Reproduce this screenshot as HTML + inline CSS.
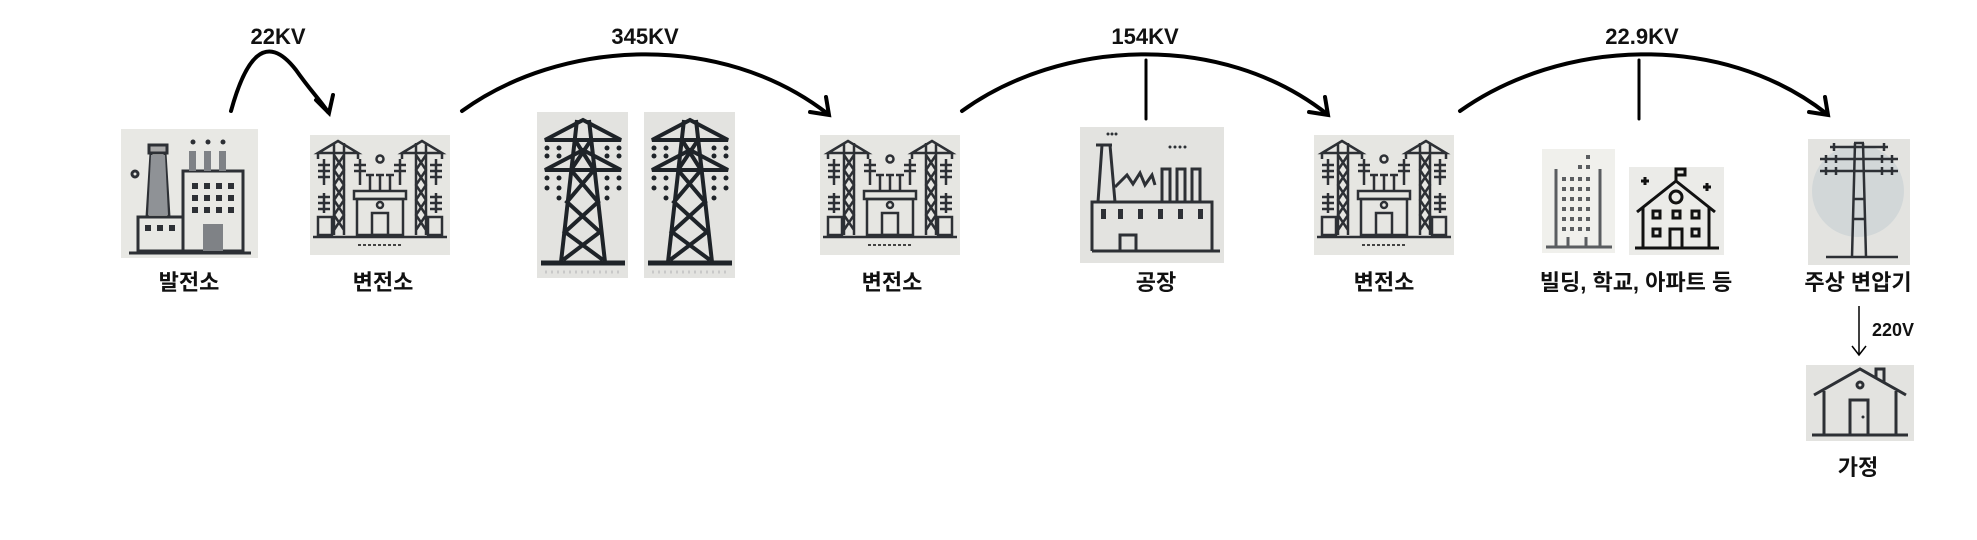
<!DOCTYPE html>
<html><head><meta charset="utf-8"><style>
html,body{margin:0;padding:0;background:#fff;width:1977px;height:540px;overflow:hidden}
svg text{font-family:"Liberation Sans","Noto Sans CJK KR",sans-serif;font-weight:bold;fill:#111}
</style></head><body>
<svg width="1977" height="540" viewBox="0 0 1977 540" xmlns="http://www.w3.org/2000/svg">
<defs>
<g id="sub">
 <rect x="0" y="0" width="140" height="120" fill="#e6e6e2"/>
 <g stroke="#2d3035" stroke-width="2.5" fill="none">
  <path d="M8 18 L28 6 L48 18 Z M8 18 V24 M48 18 V24 M92 18 L112 6 L132 18 Z M92 18 V24 M132 18 V24"/>
  <path d="M24 8 V100 M34 8 V100 M24 20 L34 35 L24 50 L34 65 L24 80 L34 95 M34 20 L24 35 L34 50 L24 65 L34 80 L24 95"/>
  <path d="M106 8 V100 M116 8 V100 M106 20 L116 35 L106 50 L116 65 L106 80 L116 95 M116 20 L106 35 L116 50 L106 65 L116 80 L106 95"/>
  <path d="M14 24 V50 M8 30 H20 M8 36 H20 M8 42 H20 M14 58 V78 M8 62 H20 M8 68 H20 M8 74 H20"/>
  <path d="M126 24 V50 M120 30 H132 M120 36 H132 M120 42 H132 M126 58 V78 M120 62 H132 M120 68 H132 M120 74 H132"/>
  <path d="M50 24 V50 M44 30 H56 M44 36 H56 M90 24 V50 M84 30 H96 M84 36 H96"/>
  <path d="M60 40 V56 M70 40 V56 M80 40 V56 M56 40 H64 M66 40 H74 M76 40 H84"/>
  <rect x="44" y="56" width="52" height="8"/><rect x="47" y="64" width="46" height="36"/>
  <rect x="62" y="78" width="16" height="22"/><circle cx="70" cy="70" r="3"/><circle cx="70" cy="24" r="3.5"/>
  <rect x="8" y="82" width="14" height="18"/><rect x="118" y="82" width="14" height="18"/>
  <path d="M3 102 H137"/>
 </g>
 <path d="M48 110 H92" stroke="#444" stroke-width="2" stroke-dasharray="3 2"/>
</g>
<g id="tower">
 <rect x="0" y="0" width="91" height="166" fill="#e3e3e0"/>
 <g stroke="#1e2328" stroke-width="4" fill="none">
  <path d="M8 28 L46 8 L84 28 Z M8 58 L46 38 L84 58 Z"/>
  <path d="M40 8 L24 150 M52 8 L68 150"/>
  <path d="M38 28 L57 58 L30 90 L63 120 L26 148 M54 28 L34 58 L61 90 L28 120 L66 148"/>
  <path d="M4 151 H88" stroke-width="5"/>
 </g>
 <g fill="#1e2328"><circle cx="10" cy="36" r="2.5"/><circle cx="10" cy="44" r="2.5"/><circle cx="22" cy="36" r="2.5"/><circle cx="22" cy="44" r="2.5"/><circle cx="70" cy="36" r="2.5"/><circle cx="70" cy="44" r="2.5"/><circle cx="82" cy="36" r="2.5"/><circle cx="82" cy="44" r="2.5"/>
 <circle cx="10" cy="66" r="2.5"/><circle cx="10" cy="76" r="2.5"/><circle cx="22" cy="66" r="2.5"/><circle cx="22" cy="76" r="2.5"/><circle cx="22" cy="86" r="2.5"/><circle cx="70" cy="66" r="2.5"/><circle cx="70" cy="76" r="2.5"/><circle cx="70" cy="86" r="2.5"/><circle cx="82" cy="66" r="2.5"/><circle cx="82" cy="76" r="2.5"/></g>
 <path d="M8 160 H84" stroke="#c8c8c8" stroke-width="3" stroke-dasharray="2 4"/>
</g>
</defs>

<!-- arrows -->
<g stroke="#000" stroke-width="4" fill="none" stroke-linecap="round">
 <path d="M231 111 C245 60 265 30 296 70 C310 90 320 100 328 112"/>
 <path d="M316 100 L329 113 L333 95"/>
 <path d="M462 111 C560 40 720 30 828 114"/>
 <path d="M810 112 L829 115 L826 97"/>
 <path d="M962 111 C1060 40 1220 30 1327 114"/>
 <path d="M1309 112 L1328 115 L1325 97"/>
 <path d="M1146 60 V119" stroke-width="3"/>
 <path d="M1460 111 C1560 40 1720 30 1827 114"/>
 <path d="M1809 112 L1828 115 L1825 97"/>
 <path d="M1639 60 V119" stroke-width="3"/>
</g>
<g stroke="#000" stroke-width="1.5" fill="none">
 <path d="M1859 306 V355"/><path d="M1852 346 L1859 355 L1866 346"/>
</g>

<!-- labels -->
<g font-size="22" text-anchor="middle">
 <text x="278" y="44">22KV</text>
 <text x="645" y="44">345KV</text>
 <text x="1145" y="44">154KV</text>
 <text x="1642" y="44">22.9KV</text>
 <text x="189" y="290">발전소</text>
 <text x="383" y="290">변전소</text>
 <text x="892" y="290">변전소</text>
 <text x="1156" y="290">공장</text>
 <text x="1384" y="290">변전소</text>
 <text x="1636" y="290">빌딩, 학교, 아파트 등</text>
 <text x="1858" y="290">주상 변압기</text>
 <text x="1858" y="475">가정</text>
</g>
<text x="1872" y="336" font-size="18">220V</text>

<!-- power plant -->
<g transform="translate(121,129)">
 <rect width="137" height="129" fill="#e8e8e4"/>
 <g stroke="#2d3035" stroke-width="3" fill="none">
  <rect x="28" y="16" width="18" height="8" fill="#aaa"/><path d="M30 24 L26 88 M44 24 L48 88"/>
  <rect x="62" y="42" width="60" height="80"/><rect x="17" y="88" width="45" height="34"/>
  <path d="M8 124 H130"/><circle cx="14" cy="45" r="3"/>
 </g>
 <path d="M30 26 L27 86 L47 86 L44 26 Z" fill="#8f9296"/>
 <g fill="#7f8286"><rect x="68" y="22" width="7" height="20"/><rect x="83" y="22" width="7" height="20"/><rect x="98" y="22" width="7" height="20"/><rect x="82" y="95" width="20" height="27"/></g>
 <g fill="#2d3035"><circle cx="72" cy="13" r="2.5"/><circle cx="87" cy="13" r="2.5"/><circle cx="102" cy="13" r="2.5"/>
 <rect x="71" y="54" width="6" height="6"/><rect x="83" y="54" width="6" height="6"/><rect x="95" y="54" width="6" height="6"/><rect x="107" y="54" width="6" height="6"/>
 <rect x="71" y="66" width="6" height="6"/><rect x="83" y="66" width="6" height="6"/><rect x="95" y="66" width="6" height="6"/><rect x="107" y="66" width="6" height="6"/>
 <rect x="71" y="78" width="6" height="6"/><rect x="83" y="78" width="6" height="6"/><rect x="95" y="78" width="6" height="6"/><rect x="107" y="78" width="6" height="6"/>
 <rect x="24" y="96" width="6" height="6"/><rect x="36" y="96" width="6" height="6"/><rect x="48" y="96" width="6" height="6"/></g>
</g>

<use href="#sub" x="310" y="135"/>
<use href="#sub" x="820" y="135"/>
<use href="#sub" x="1314" y="135"/>
<use href="#tower" x="537" y="112"/>
<use href="#tower" x="644" y="112"/>

<!-- factory -->
<g transform="translate(1080,127)">
 <rect width="144" height="136" fill="#e3e3e0"/>
 <g stroke="#2d3035" stroke-width="3" fill="none">
  <path d="M12 124 H140"/><path d="M12 124 V75 H132 V124"/>
  <path d="M18 75 L22 18 H30 L35 75 M16 18 H32"/>
  <path d="M35 60 L47 48 L53 57 L60 46 L65 58 L72 48 L75 58"/>
  <path d="M82 75 V42 H90 V75 M97 75 V42 H105 V75 M112 75 V42 H120 V75"/>
  <rect x="40" y="108" width="16" height="16"/>
 </g>
 <g fill="#2d3035"><rect x="21" y="82" width="5" height="10"/><rect x="38" y="82" width="5" height="10"/><rect x="58" y="82" width="5" height="10"/><rect x="78" y="82" width="5" height="10"/><rect x="98" y="82" width="5" height="10"/><rect x="118" y="82" width="5" height="10"/>
 <circle cx="28" cy="7" r="1.5"/><circle cx="32" cy="7" r="1.5"/><circle cx="36" cy="7" r="1.5"/><circle cx="90" cy="20" r="1.5"/><circle cx="95" cy="20" r="1.5"/><circle cx="100" cy="20" r="1.5"/><circle cx="105" cy="20" r="1.5"/></g>
</g>

<!-- building -->
<g transform="translate(1542,149)">
 <rect width="73" height="104" fill="#f0f0ec"/>
 <g stroke="#5a5d60" stroke-width="3" fill="none"><path d="M4 98 H70 M14 98 V20 M58 98 V20 M26 98 V88 M44 98 V88"/></g>
 <g fill="#5a5d60">
  <rect x="20" y="28" width="4" height="4"/><rect x="28" y="28" width="4" height="4"/><rect x="36" y="28" width="4" height="4"/><rect x="44" y="28" width="4" height="4"/>
  <rect x="20" y="38" width="4" height="4"/><rect x="28" y="38" width="4" height="4"/><rect x="36" y="38" width="4" height="4"/><rect x="44" y="38" width="4" height="4"/>
  <rect x="20" y="48" width="4" height="4"/><rect x="28" y="48" width="4" height="4"/><rect x="36" y="48" width="4" height="4"/><rect x="44" y="48" width="4" height="4"/>
  <rect x="20" y="58" width="4" height="4"/><rect x="28" y="58" width="4" height="4"/><rect x="36" y="58" width="4" height="4"/><rect x="44" y="58" width="4" height="4"/>
  <rect x="20" y="68" width="4" height="4"/><rect x="28" y="68" width="4" height="4"/><rect x="36" y="68" width="4" height="4"/><rect x="44" y="68" width="4" height="4"/>
  <rect x="20" y="78" width="4" height="4"/><rect x="28" y="78" width="4" height="4"/><rect x="36" y="78" width="4" height="4"/><rect x="44" y="78" width="4" height="4"/>
  <rect x="44" y="6" width="4" height="4"/><rect x="44" y="16" width="4" height="4"/><rect x="36" y="16" width="4" height="4"/></g>
</g>

<!-- school -->
<g transform="translate(1629,167)">
 <rect width="95" height="88" fill="#ebebe8"/>
 <g stroke="#111" stroke-width="3" fill="none">
  <path d="M6 81 H90"/><path d="M8 45 L47 14 L86 45"/><path d="M14 40 V81 M80 40 V81"/>
  <path d="M47 14 V2 H56 V8 H47"/><circle cx="47" cy="30" r="6"/>
  <rect x="24" y="44" width="7" height="7"/><rect x="44" y="44" width="7" height="7"/><rect x="63" y="44" width="7" height="7"/>
  <rect x="24" y="62" width="7" height="7"/><rect x="63" y="62" width="7" height="7"/><rect x="41" y="62" width="12" height="19"/>
  <path d="M12 14 H20 M16 10 V18 M74 20 H82 M78 16 V24"/>
 </g>
</g>

<!-- pole transformer -->
<g transform="translate(1808,139)">
 <rect width="102" height="126" fill="#e3e3e0"/>
 <circle cx="50" cy="52" r="46" fill="#d2d7d8"/>
 <g stroke="#2d3035" stroke-width="2.5" fill="none">
  <path d="M46 4 H56 M47 4 L44 118 M55 4 L58 118 M45 60 H57 M45 80 H57"/>
  <path d="M22 8 H80 M12 20 H90 M12 32 H90"/>
  <path d="M26 4 V12 M76 4 V12 M18 16 V24 M28 16 V24 M74 16 V24 M84 16 V24 M18 28 V36 M28 28 V36 M74 28 V36 M84 28 V36"/>
  <path d="M18 118 H90"/>
 </g>
</g>

<!-- house -->
<g transform="translate(1806,365)">
 <rect width="108" height="76" fill="#e3e3e0"/>
 <g stroke="#2d3035" stroke-width="3" fill="none">
  <path d="M8 30 L54 4 L100 30"/><path d="M18 26 V70 M90 26 V70"/><path d="M6 70 H102"/>
  <rect x="44" y="35" width="18" height="35"/><circle cx="54" cy="20" r="3"/><path d="M70 13 V4 H78 V18"/>
 </g>
 <circle cx="57" cy="52" r="1.5" fill="#2d3035"/>
</g>
</svg>
</body></html>
